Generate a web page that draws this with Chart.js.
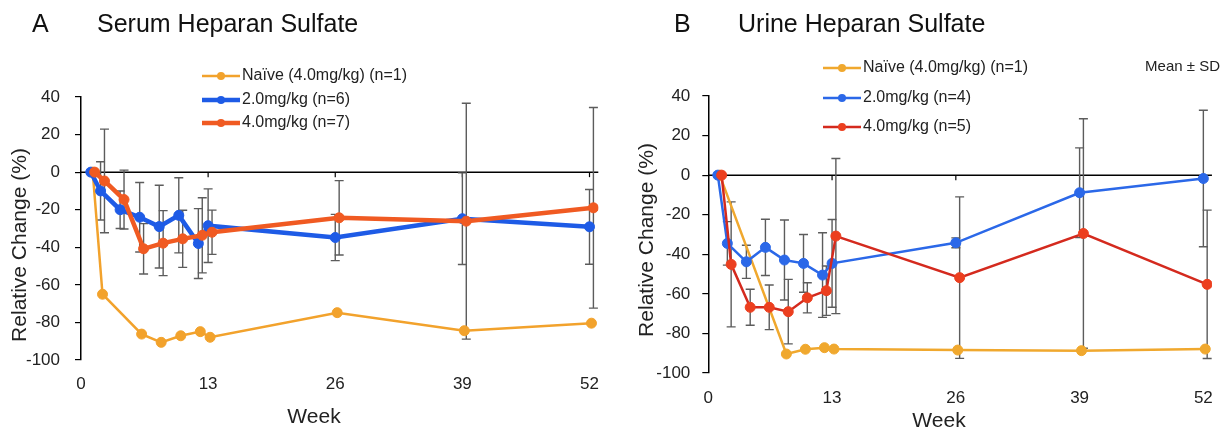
<!DOCTYPE html>
<html>
<head>
<meta charset="utf-8">
<title>Heparan Sulfate</title>
<script src="https://cdn.jsdelivr.net/npm/chart.js@4.4.1/dist/chart.umd.min.js"></script>
<style>
    body { margin: 0; background: #fff; }
    .panel { position: absolute; top: 0; width: 614px; height: 429px; }
</style>
</head>
<body>
<div class="panel" style="left:0"><canvas id="serumChart" width="614" height="429"></canvas></div>
<div class="panel" style="left:614px"><canvas id="urineChart" width="614" height="429"></canvas></div>
<script>
// Axis ticks
const weekTicks = [0, 13, 26, 39, 52];
const changeTicks = [-100, -80, -60, -40, -20, 0, 20, 40];

// Weeks of the visits
const visitWeeks = [1, 2, 4, 6, 8, 10, 12, 13, 26, 39, 52];

// A - serum (% change, mean and SD)
const serumNaiveWeeks = [1, 2, 6, 8, 10, 12, 13, 26, 39, 52];
const serumNaive = [0, -65, -86.2, -90.6, -87.1, -84.9, -87.9, -74.8, -84.4, -80.4];
const serumLow = [0, -10, -20, -24, -29, -23, -38, -28.5, -34.8, -24.8, -29.1];
const serumLowSD = [0, 15.5, 10, 18.5, 22, 20, 18.6, 19.6, 12.3, 24.4, 19.9];
const serumHigh = [0, -4.7, -14.6, -40.8, -37.8, -35.5, -33.6, -32, -24.3, -26.1, -19];
const serumHighSD = [0, 27.6, 15.7, 13.4, 17.3, 15.2, 20, 11.8, 19.8, 62.8, 53.4];

// B - urine
const urineNaiveWeeks = [1, 8, 10, 12, 13, 26, 39, 52];
const urineNaive = [0, -90.4, -88, -87.2, -87.9, -88.4, -88.7, -87.9];
const urineLow = [0, -34.5, -43.8, -36.5, -42.9, -44.6, -50.5, -44.6, -34.2, -8.9, -1.7];
const urineLowSD = [0, 11, 8.4, 14.2, 20.2, 14.6, 21.4, 22.2, 2.5, 22.7, 34.5];
const urineHigh = [0, -45.1, -66.8, -66.8, -69, -62, -58.4, -30.8, -51.8, -29.5, -55.2];
const urineHighSD = [0, 31.6, 9.1, 11.3, 16.3, 7.6, 12.5, 39.2, 40.8, 58, 37.5];

// small horizontal shift so the groups don't sit on top of each other
const dodge = { naive: 0.2, low: 0, high: 0.4 };

const FONT = "'Liberation Sans', Arial, sans-serif";

function points(weeks, values, shift) {
    return weeks.map((w, i) => ({ x: w + shift, y: values[i] }));
}

function series(label, weeks, values, sd, shift, color, pointColor, width, order) {
    return {
        label: label,
        data: points(weeks, values, shift),
        sd: sd,
        borderColor: color,
        backgroundColor: pointColor,
        pointBackgroundColor: pointColor,
        pointBorderColor: pointColor,
        borderWidth: width,
        pointRadius: 5,
        pointBorderWidth: 1,
        tension: 0,
        order: order
    };
}

// zero line, week ticks, error bars, then headings / legend / axis titles
const decorPlugin = {
    id: 'decor',
    beforeDatasetsDraw(chart) {
        const { ctx, chartArea, scales: { x, y } } = chart;
        const zeroY = y.getPixelForValue(0);
        ctx.save();
        ctx.strokeStyle = '#000';
        ctx.lineWidth = 1.5;
        ctx.beginPath();
        ctx.moveTo(chartArea.left, zeroY);
        ctx.lineTo(chartArea.right, zeroY);
        ctx.stroke();

        ctx.lineWidth = 1.2;
        weekTicks.slice(1).forEach(w => {
            const px = x.getPixelForValue(w);
            ctx.beginPath();
            ctx.moveTo(px, zeroY);
            ctx.lineTo(px, zeroY + 5);
            ctx.stroke();
        });

        ctx.strokeStyle = '#5c5c5c';
        ctx.lineWidth = 1.4;
        chart.data.datasets.forEach(ds => {
            if (!ds.sd) return;
            ds.data.forEach((pt, j) => {
                const sd = ds.sd[j];
                if (!sd) return;
                const px = x.getPixelForValue(pt.x);
                const top = y.getPixelForValue(pt.y + sd);
                const bottom = y.getPixelForValue(pt.y - sd);
                ctx.beginPath();
                ctx.moveTo(px, top);
                ctx.lineTo(px, bottom);
                ctx.moveTo(px - 4.5, top);
                ctx.lineTo(px + 4.5, top);
                ctx.moveTo(px - 4.5, bottom);
                ctx.lineTo(px + 4.5, bottom);
                ctx.stroke();
            });
        });
        ctx.restore();
    },
    afterDraw(chart, args, opts) {
        const ctx = chart.ctx;
        ctx.save();
        ctx.fillStyle = '#111';
        ctx.textBaseline = 'alphabetic';
        ctx.textAlign = 'left';
        ctx.font = `25px ${FONT}`;
        ctx.fillText(opts.letter, opts.letterX, 32);
        ctx.fillText(opts.heading, opts.headingX, 32);

        // legend
        ctx.font = `16px ${FONT}`;
        ctx.textBaseline = 'middle';
        chart.data.datasets.forEach((ds, i) => {
            const ly = opts.legendRows[i];
            ctx.strokeStyle = ds.borderColor;
            ctx.lineWidth = ds.borderWidth;
            ctx.beginPath();
            ctx.moveTo(opts.legendX, ly);
            ctx.lineTo(opts.legendX + 38, ly);
            ctx.stroke();
            ctx.fillStyle = ds.pointBackgroundColor;
            ctx.beginPath();
            ctx.arc(opts.legendX + 19, ly, 4, 0, Math.PI * 2);
            ctx.fill();
            ctx.fillStyle = '#222';
            ctx.fillText(ds.label, opts.legendX + 40, ly);
        });

        if (opts.note) {
            ctx.font = `15px ${FONT}`;
            ctx.textAlign = 'right';
            ctx.fillText(opts.note, opts.noteX, opts.noteY);
        }

        // axis titles
        ctx.fillStyle = '#222';
        ctx.textAlign = 'center';
        ctx.textBaseline = 'alphabetic';
        ctx.font = `21px ${FONT}`;
        ctx.fillText('Week', opts.weekX, opts.weekY);

        ctx.textBaseline = 'middle';
        ctx.translate(opts.yTitleX, opts.yTitleY);
        ctx.rotate(-Math.PI / 2);
        ctx.fillText('Relative Change (%)', 0, 0);
        ctx.restore();
    }
};

function createPanel(canvasId, datasets, box, decor) {
    const ctx = document.getElementById(canvasId).getContext('2d');
    return new Chart(ctx, {
        type: 'line',
        data: { datasets: datasets },
        plugins: [decorPlugin],
        options: {
            responsive: false,
            animation: false,
            layout: { padding: { top: box.top, right: box.right, left: 0, bottom: 0 } },
            plugins: {
                legend: { display: false },
                tooltip: { enabled: false },
                decor: decor
            },
            scales: {
                x: {
                    type: 'linear',
                    min: 0,
                    max: 52.9,
                    afterBuildTicks: scale => { scale.ticks = weekTicks.map(v => ({ value: v })); },
                    afterFit: scale => { scale.height = box.xHeight; },
                    grid: { display: false, drawTicks: false },
                    border: { display: false },
                    ticks: { padding: box.xPad, color: '#222', font: { family: FONT, size: 17 } }
                },
                y: {
                    min: -100,
                    max: 40,
                    afterBuildTicks: scale => { scale.ticks = changeTicks.map(v => ({ value: v })); },
                    afterFit: scale => { scale.width = box.yWidth; },
                    grid: { drawOnChartArea: false, drawTicks: true, tickLength: 6, color: '#000', lineWidth: 1.2 },
                    border: { display: true, color: '#000', width: 1.5 },
                    ticks: { padding: box.yPad, color: '#222', font: { family: FONT, size: 17 } }
                }
            }
        }
    });
}

createPanel('serumChart', [
    series('Naïve (4.0mg/kg) (n=1)', serumNaiveWeeks, serumNaive, null, dodge.naive, '#F2A22C', '#F2A22C', 2.5, 3),
    series('2.0mg/kg (n=6)', visitWeeks, serumLow, serumLowSD, dodge.low, '#1E5BE6', '#1E5BE6', 4.5, 2),
    series('4.0mg/kg (n=7)', visitWeeks, serumHigh, serumHighSD, dodge.high, '#F05A22', '#F05A22', 4.5, 1)
], { top: 97, right: 15.7, xHeight: 69, yWidth: 81, xPad: 14, yPad: 15 }, {
    letter: 'A', letterX: 32, heading: 'Serum Heparan Sulfate', headingX: 97,
    legendX: 202, legendRows: [76, 100, 123],
    weekX: 314, weekY: 423, yTitleX: 20, yTitleY: 245
});

createPanel('urineChart', [
    series('Naïve (4.0mg/kg) (n=1)', urineNaiveWeeks, urineNaive, null, dodge.naive, '#F0A82E', '#F0A82E', 2.5, 3),
    series('2.0mg/kg (n=4)', visitWeeks, urineLow, urineLowSD, dodge.low, '#2B68E8', '#2B68E8', 2.5, 2),
    series('4.0mg/kg (n=5)', visitWeeks, urineHigh, urineHighSD, dodge.high, '#D42A1E', '#EC3F1F', 2.5, 1)
], { top: 96, right: 11, xHeight: 56, yWidth: 94.3, xPad: 15, yPad: 12 }, {
    letter: 'B', letterX: 60, heading: 'Urine Heparan Sulfate', headingX: 124,
    legendX: 209, legendRows: [68, 98, 127],
    note: 'Mean ± SD', noteX: 606, noteY: 67,
    weekX: 325, weekY: 427, yTitleX: 33, yTitleY: 240
});
</script>
</body>
</html>
